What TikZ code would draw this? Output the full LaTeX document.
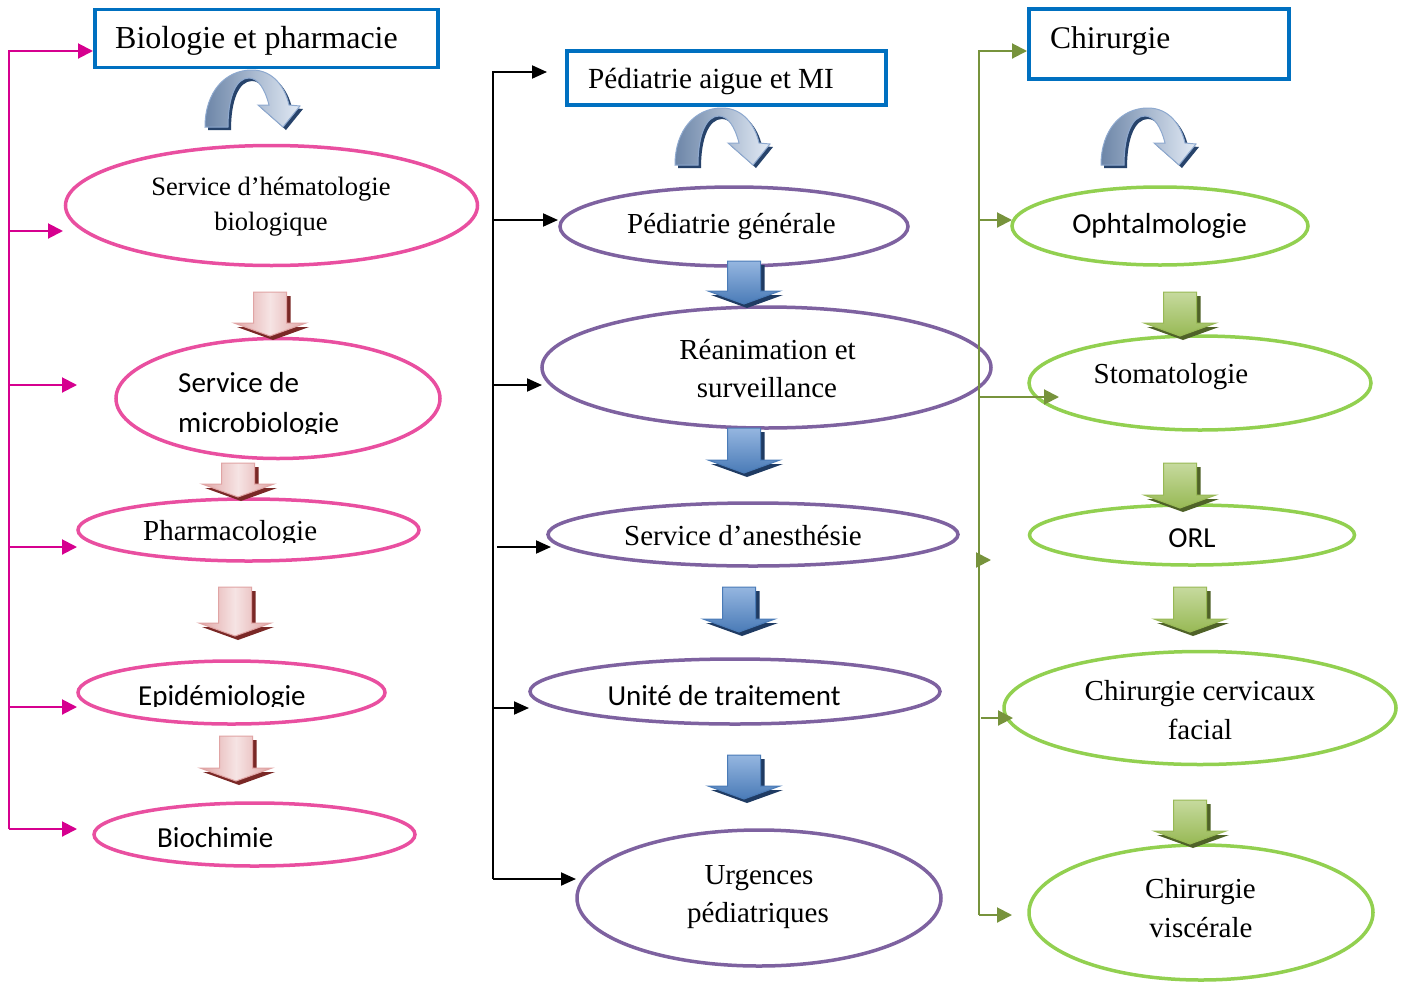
\documentclass[tikz,border=0pt]{standalone}
\usepackage{fontspec}
\setmainfont{Liberation Serif}
\newfontfamily\calib{Carlito}
\usetikzlibrary{shapes.geometric,arrows.meta}
\definecolor{boxblue}{HTML}{0070C0}
\definecolor{pinkE}{HTML}{E94FA0}
\definecolor{magL}{HTML}{D6008F}
\definecolor{purpE}{HTML}{7E62A0}
\definecolor{greenE}{HTML}{92D050}
\definecolor{greenL}{HTML}{77933C}
\definecolor{pkLight}{HTML}{F6E4E4}
\definecolor{pkMid}{HTML}{E0A4A4}
\definecolor{pkDark}{HTML}{7A2826}
\definecolor{blLight}{HTML}{95B6E0}
\definecolor{blMid}{HTML}{4A7BB7}
\definecolor{blDark}{HTML}{1F3B63}
\definecolor{gnLight}{HTML}{C6DA9E}
\definecolor{gnMid}{HTML}{98B955}
\definecolor{gnDark}{HTML}{4F6228}
\definecolor{cvLeft}{HTML}{6D86A8}
\definecolor{cvRight}{HTML}{E2EAF5}
\definecolor{cvBorder}{HTML}{8EA9CF}
\definecolor{cvShadow}{HTML}{27436B}
\tikzset{
  hdbox/.style={draw=boxblue, line width=3.8pt, fill=white, outer sep=0pt},
  ellbase/.style={ellipse, inner sep=0pt, outer sep=0pt, line width=3.5pt},
  pinkell/.style={ellbase, draw=pinkE},
  purpell/.style={ellbase, draw=purpE},
  greenell/.style={ellbase, draw=greenE},
  serT/.style={font=\fontsize{29}{35}\selectfont, inner sep=0pt, anchor=base},
  calT/.style={font=\calib\fontsize{29}{35}\selectfont, inner sep=0pt, anchor=base},
  magarr/.style={draw=magL, line width=2pt, -{Triangle[length=15pt,width=15pt]}},
  blkarr/.style={draw=black, line width=2pt, -{Triangle[length=15pt,width=13pt]}},
  grnarr/.style={draw=greenL, line width=2pt, -{Triangle[length=15pt,width=15pt]}},
  pkfill/.style={left color=pkMid, right color=pkMid, middle color=pkLight, draw=pkMid, line width=1pt},
  blfill/.style={top color=blLight, bottom color=blMid, draw=blMid, line width=1pt},
  gnfill/.style={top color=gnLight, bottom color=gnMid, draw=gnMid, line width=1pt},
}
% down block arrow: centre x, top y, height, fill style, shadow colour
\newcommand{\DnArrow}[5]{%
  \begin{scope}[shift={(#1,#2)}]
    \fill[#5] (-13.5,4) -- (20.5,4) -- (20.5,{#3-13}) -- (39,{#3-13}) -- (3,#3) -- (-33,{#3-13}) -- (-13.5,{#3-13}) -- cycle;
    \path[#4] (-16.5,0) -- (16.5,0) -- (16.5,{#3-17}) -- (36,{#3-17}) -- (0,{#3-4}) -- (-36,{#3-17}) -- (-16.5,{#3-17}) -- cycle;
  \end{scope}}
% curved down arrow, origin = bottom left of its left leg
\newcommand{\CvArrow}[2]{%
  \begin{scope}[shift={(#1,#2)}]
    \fill[cvShadow] (3,3) .. controls (3,-32) and (23,-54) .. (50,-54) .. controls (71,-54) and (83,-37) .. (87,-19) -- (98,-18) -- (81,3) -- (56,-19) -- (67,-19) .. controls (63,-35) and (56,-46) .. (47,-46) .. controls (34,-46) and (26,-27) .. (26,3) -- cycle;
    \path[left color=cvLeft, right color=cvRight, draw=cvBorder, line width=1pt] (0,0) .. controls (0,-35) and (20,-57) .. (47,-57) .. controls (68,-57) and (80,-40) .. (84,-22) -- (95,-21) -- (78,0) -- (53,-22) -- (64,-22) .. controls (60,-38) and (53,-49) .. (44,-49) .. controls (31,-49) and (23,-30) .. (23,0) -- cycle;
  \end{scope}}
\begin{document}
\begin{tikzpicture}[x=1pt,y=-1pt]
\fill[white] (0,0) rectangle (1408,983);
\useasboundingbox (0,0) rectangle (1408,983);

% ---------- header boxes ----------
\node[hdbox, anchor=north west, minimum width=343pt, minimum height=58pt] (hb1) at (95,9.5) {};
\node[font=\fontsize{32}{36}\selectfont, inner sep=0pt, anchor=base west] (ht1) at (115,48) {Biologie et pharmacie};
\node[hdbox, anchor=north west, minimum width=319pt, minimum height=54pt] (hb2) at (567,51) {};
\node[font=\fontsize{29.2}{34}\selectfont, inner sep=0pt, anchor=base west] (ht2) at (588,88) {Pédiatrie aigue et MI};
\node[hdbox, anchor=north west, minimum width=260pt, minimum height=70pt] (hb3) at (1029,9) {};
\node[font=\fontsize{31.5}{36}\selectfont, inner sep=0pt, anchor=base west] (ht3) at (1050,48) {Chirurgie};

% ---------- curved arrows ----------
\CvArrow{205}{127}
\CvArrow{675}{165}
\CvArrow{1101}{165}

% ---------- left column ----------
\node[pinkell, minimum width=412pt, minimum height=120pt] (e1) at (271.5,205.5) {};
\node[pinkell, minimum width=324pt, minimum height=120pt] (e2) at (278,398.5) {};
\node[pinkell, minimum width=341pt, minimum height=62pt] (e3) at (248.5,530) {};
\node[pinkell, minimum width=307pt, minimum height=63pt] (e4) at (231.5,692.5) {};
\node[pinkell, minimum width=321pt, minimum height=63pt] (e5) at (254.5,834.5) {};

\node[serT, font=\fontsize{26.5}{30}\selectfont] (e1a) at (271,195) {Service d’hématologie};
\node[serT, font=\fontsize{26.5}{30}\selectfont] (e1b) at (271,230) {biologique};
\node[calT, anchor=base west] (e2a) at (178,392) {Service de};
\begin{scope}
  \clip (100,400) rectangle (460,433.5);
  \node[calT, anchor=base west] (e2b) at (178,432) {microbiologie};
\end{scope}
\begin{scope}
  \clip (100,500) rectangle (460,542.5);
  \node[serT, anchor=base west] (e3a) at (143,540) {Pharmacologie};
\end{scope}
\begin{scope}
  \clip (100,660) rectangle (460,706);
  \node[calT, anchor=base west] (e4a) at (138,705) {Epidémiologie};
\end{scope}
\node[calT, anchor=base west] (e5a) at (157,847) {Biochimie};

\DnArrow{270}{292}{48}{pkfill}{pkDark}
\DnArrow{238}{463}{38}{pkfill}{pkDark}
\DnArrow{235}{587}{53}{pkfill}{pkDark}
\DnArrow{236}{736}{49}{pkfill}{pkDark}

% ---------- middle column ----------
\node[purpell, minimum width=348pt, minimum height=79pt] (p1) at (734,226.5) {};
\node[purpell, minimum width=449pt, minimum height=121pt] (p2) at (766.5,367.5) {};
\node[purpell, minimum width=410pt, minimum height=63pt] (p3) at (753,534.5) {};
\node[purpell, minimum width=410pt, minimum height=65pt] (p4) at (735,691.5) {};
\node[purpell, minimum width=364pt, minimum height=136pt] (p5) at (759,898) {};

\node[serT] (p1a) at (731.5,233) {Pédiatrie générale};
\node[serT] (p2a) at (767.5,359) {Réanimation et};
\node[serT] (p2b) at (767,397) {surveillance};
\node[serT] (p3a) at (743,545) {Service d’anesthésie};
\node[calT] (p4a) at (724,705) {Unité de traitement};
\node[serT] (p5a) at (759,884) {Urgences};
\node[serT] (p5b) at (758,922) {pédiatriques};

\DnArrow{744}{261}{47}{blfill}{blDark}
\DnArrow{744}{428}{49}{blfill}{blDark}
\DnArrow{739}{587}{49}{blfill}{blDark}
\DnArrow{744}{755}{48}{blfill}{blDark}

% ---------- right column ----------
\node[greenell, minimum width=296pt, minimum height=78pt] (g1) at (1160,226) {};
\node[greenell, minimum width=342pt, minimum height=94pt] (g2) at (1200,383) {};
\node[greenell, minimum width=325pt, minimum height=60pt] (g3) at (1192,535) {};
\node[greenell, minimum width=392pt, minimum height=113pt] (g4) at (1200,708) {};
\node[greenell, minimum width=344pt, minimum height=135pt] (g5) at (1201,912.5) {};

\node[calT] (g1a) at (1159.5,233) {Ophtalmologie};
\node[serT] (g2a) at (1171,383) {Stomatologie};
\node[calT] (g3a) at (1192,547) {ORL};
\node[serT] (g4a) at (1200,700) {Chirurgie cervicaux};
\node[serT] (g4b) at (1200,739) {facial};
\node[serT] (g5a) at (1200.5,898) {Chirurgie};
\node[serT] (g5b) at (1201,937) {viscérale};

\DnArrow{1180}{292}{48}{gnfill}{gnDark}
\DnArrow{1180}{463}{49}{gnfill}{gnDark}
\DnArrow{1190}{587}{49}{gnfill}{gnDark}
\DnArrow{1190}{800}{48}{gnfill}{gnDark}

% ---------- connectors: magenta ----------
\coordinate (m0) at (9,51);   \coordinate (mt0) at (93,51);
\coordinate (m1) at (9,231);  \coordinate (mt1) at (63,231);
\coordinate (m2) at (9,385);  \coordinate (mt2) at (77,385);
\coordinate (m3) at (9,547);  \coordinate (mt3) at (77,547);
\coordinate (m4) at (9,707);  \coordinate (mt4) at (77,707);
\coordinate (m5) at (9,829);  \coordinate (mt5) at (77,829);
\draw[magarr] (m5) -- (m0) -- (mt0);
\draw[magarr] (m1) -- (mt1);
\draw[magarr] (m2) -- (mt2);
\draw[magarr] (m3) -- (mt3);
\draw[magarr] (m4) -- (mt4);
\draw[magarr] (m5) -- (mt5);

% ---------- connectors: black ----------
\coordinate (k0) at (493,72);   \coordinate (kt0) at (547,72);
\coordinate (k1) at (493,220);  \coordinate (kt1) at (558,220);
\coordinate (k2) at (493,385);  \coordinate (kt2) at (542,385);
\coordinate (k3) at (497,547);  \coordinate (kt3) at (551,547);
\coordinate (k4) at (493,708);  \coordinate (kt4) at (529,708);
\coordinate (k5) at (493,879);  \coordinate (kt5) at (576,879);
\draw[blkarr] (k5) -- (k0) -- (kt0);
\draw[blkarr] (k1) -- (kt1);
\draw[blkarr] (k2) -- (kt2);
\draw[blkarr] (k3) -- (kt3);
\draw[blkarr] (k4) -- (kt4);
\draw[blkarr] (k5) -- (kt5);

% ---------- connectors: green ----------
\coordinate (q0) at (979,51);   \coordinate (qt0) at (1027,51);
\coordinate (q1) at (979,220);  \coordinate (qt1) at (1012,220);
\coordinate (q2) at (979,397);  \coordinate (qt2) at (1059,397);
\coordinate (q3) at (976,560);  \coordinate (qt3) at (991,560);
\coordinate (q4) at (981,718);  \coordinate (qt4) at (1013,718);
\coordinate (q5) at (979,915);  \coordinate (qt5) at (1012,915);
\draw[grnarr] (q5) -- (q0) -- (qt0);
\draw[grnarr] (q1) -- (qt1);
\draw[grnarr] (q2) -- (qt2);
\draw[grnarr] (q3) -- (qt3);
\draw[grnarr] (q4) -- (qt4);
\draw[grnarr] (q5) -- (qt5);
\end{tikzpicture}
\end{document}
